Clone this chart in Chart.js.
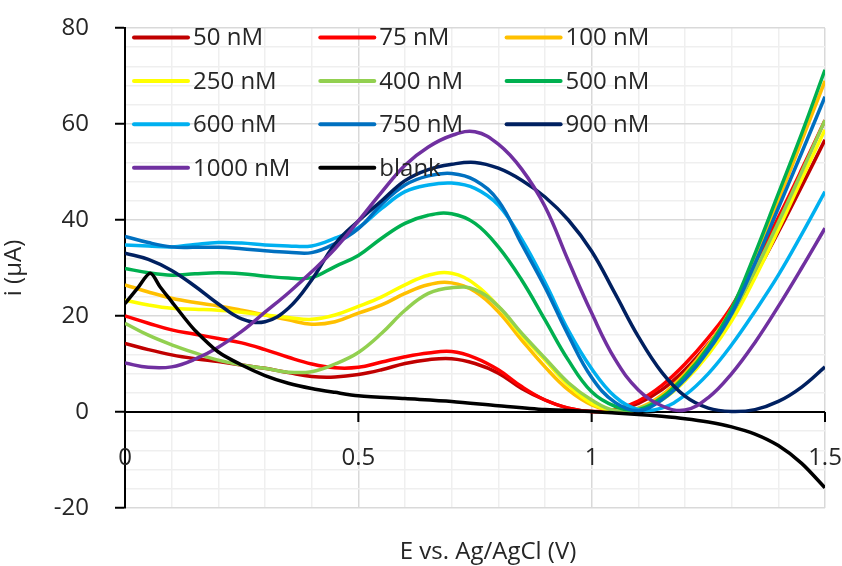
<!DOCTYPE html>
<html>
<head>
<meta charset="utf-8">
<title>i vs E</title>
<script src="https://cdn.jsdelivr.net/npm/chart.js@4.4.1/dist/chart.umd.min.js"></script>
<style>
  html, body { margin: 0; padding: 0; background: #fff; }
  #wrap { position: relative; width: 842px; height: 566px; }
</style>
</head>
<body>
<div id="wrap"><canvas id="chart"></canvas></div>
<script>
// potencial (V) comun para las curvas de concentración
const potentials = [0, 0.05, 0.1, 0.15, 0.2, 0.25, 0.3, 0.35, 0.4, 0.45,
                    0.5, 0.55, 0.6, 0.65, 0.7, 0.75, 0.8, 0.85, 0.9, 0.95,
                    1.0, 1.05, 1.1, 1.15, 1.2, 1.25, 1.3, 1.35, 1.4, 1.45, 1.5];

// corriente (µA) por concentración
const i50   = [14.3, 13.0, 11.9, 11.1, 10.5, 9.8, 9.1, 8.2, 7.4, 7.3,
               7.8, 8.8, 10.1, 10.9, 11.1, 10.1, 8.1, 4.9, 2.5, 0.8,
               0.1, 0.3, 1.8, 4.6, 8.8, 14.2, 20.5, 28.5, 37.5, 47.0, 56.7];
const i75   = [20.0, 18.5, 17.1, 16.2, 15.3, 14.4, 13.0, 11.4, 10.0, 9.2,
               9.3, 10.4, 11.5, 12.3, 12.6, 11.3, 8.8, 5.3, 2.5, 0.8,
               0.1, 0.5, 2.3, 5.5, 10.0, 15.5, 22.0, 31.0, 40.5, 50.5, 60.8];
const i100  = [26.5, 25.0, 23.7, 22.8, 22.1, 21.2, 20.2, 19.2, 18.3, 18.8,
               20.6, 22.3, 24.7, 26.5, 26.9, 25.1, 20.9, 15.0, 9.4, 4.6,
               1.5, 0.3, 0.8, 3.5, 8.0, 14.0, 21.5, 32.0, 44.0, 56.5, 69.0];
const i250  = [23.3, 22.3, 21.6, 21.4, 21.2, 20.8, 20.2, 19.7, 19.3, 20.2,
               22.0, 24.0, 26.5, 28.5, 28.9, 26.6, 22.0, 16.0, 10.8, 5.6,
               1.8, 0.2, 0.5, 2.5, 6.5, 12.0, 19.0, 28.0, 38.0, 48.5, 58.8];
const i400  = [18.5, 16.0, 14.0, 12.3, 10.8, 9.8, 9.1, 8.3, 8.4, 10.0,
               12.4, 16.4, 21.2, 24.7, 25.9, 25.5, 22.0, 16.4, 11.2, 6.1,
               2.5, 0.3, 0.7, 3.0, 7.0, 12.8, 20.3, 29.5, 39.5, 50.0, 60.8];
const i500  = [29.9, 29.0, 28.5, 28.8, 29.0, 28.8, 28.3, 27.9, 28.0, 30.3,
               32.6, 36.2, 39.3, 41.0, 41.3, 39.3, 34.4, 27.5, 19.2, 10.8,
               4.2, 1.2, 0.5, 3.0, 7.5, 13.5, 21.5, 33.0, 45.5, 58.0, 71.3];
const i600  = [34.8, 34.6, 34.4, 34.9, 35.3, 35.2, 34.8, 34.6, 34.6, 36.2,
               38.4, 42.4, 45.9, 47.3, 47.7, 46.6, 43.1, 36.0, 27.0, 17.0,
               9.0, 3.2, 0.5, 0.8, 3.5, 8.0, 14.0, 21.0, 28.5, 37.0, 45.9];
const i750  = [36.6, 35.3, 34.4, 34.3, 34.3, 34.0, 33.6, 33.3, 33.2, 35.1,
               38.2, 43.3, 47.3, 49.2, 49.7, 48.3, 44.0, 35.0, 26.0, 16.0,
               7.2, 2.0, 0.3, 2.5, 6.8, 12.8, 20.5, 31.0, 42.5, 54.0, 65.7];
const i900  = [33.1, 31.8, 29.5, 26.2, 22.5, 19.4, 18.8, 21.6, 27.5, 35.0,
               39.8, 44.0, 48.2, 50.5, 51.6, 52.0, 50.8, 48.3, 44.8, 40.0,
               33.5, 24.7, 15.7, 8.3, 3.3, 0.8, 0.1, 0.5, 2.2, 5.2, 9.4];
const i1000 = [10.2, 9.3, 9.4, 11.0, 13.5, 16.8, 20.8, 24.8, 29.2, 34.0,
               39.8, 45.8, 51.4, 55.2, 57.6, 58.4, 55.8, 50.6, 42.8, 31.5,
               20.6, 11.0, 4.6, 1.3, 0.4, 3.0, 8.0, 14.5, 22.0, 30.0, 38.3];

// blanco: muestreo más fino cerca del pico inicial
const blankPotentials = [0, 0.027, 0.054, 0.075, 0.1, 0.125, 0.15, 0.2, 0.25, 0.3,
                         0.35, 0.4, 0.45, 0.5, 0.6, 0.7, 0.8, 0.9, 1.0, 1.05,
                         1.1, 1.15, 1.2, 1.25, 1.3, 1.35, 1.4, 1.45, 1.5];
const blankCurrent = [22.6, 25.8, 28.9, 26.1, 23.0, 19.9, 17.0, 12.5, 9.8, 7.6,
                      6.0, 4.9, 4.1, 3.4, 2.8, 2.2, 1.3, 0.5, 0.1, -0.2,
                      -0.5, -0.9, -1.4, -2.1, -3.1, -4.6, -7.0, -10.7, -15.8];

const seriesNames = ['50 nM', '75 nM', '100 nM', '250 nM', '400 nM', '500 nM',
                     '600 nM', '750 nM', '900 nM', '1000 nM', 'blank'];
const seriesColors = ['#C00000', '#FF0000', '#FFC000', '#FFFF00', '#92D050', '#00B050',
                      '#00B0F0', '#0070C0', '#002060', '#7030A0', '#000000'];

const xMajorTicks = [0, 0.5, 1, 1.5];
const xTitle = 'E vs. Ag/AgCl (V)';
const yTitle = 'i (µA)';

const FONT = "'Open Sans', 'DejaVu Sans', sans-serif";
const TEXT_COLOR = '#262626';

function toPoints(xs, ys) {
    return xs.map((x, k) => ({ x: x, y: ys[k] }));
}

const currents = [i50, i75, i100, i250, i400, i500, i600, i750, i900, i1000];
const datasets = currents.map((ys, i) => ({
    label: seriesNames[i],
    data: toPoints(potentials, ys),
    borderColor: seriesColors[i],
    backgroundColor: seriesColors[i],
    borderWidth: 3.5,
    pointRadius: 0,
    tension: 0.4,
    fill: false,
    order: seriesNames.length - i   // la última serie queda encima
}));
datasets.push({
    label: seriesNames[10],
    data: toPoints(blankPotentials, blankCurrent),
    borderColor: seriesColors[10],
    backgroundColor: seriesColors[10],
    borderWidth: 3.5,
    pointRadius: 0,
    tension: 0.3,
    fill: false,
    order: 0
});

const isMajorX = v => Math.abs(v * 2 - Math.round(v * 2)) < 1e-6;
const isMajorY = v => Math.abs(v % 20) < 1e-6;

// eje horizontal en i = 0, con sus marcas y etiquetas
const zeroAxis = {
    id: 'zeroAxis',
    beforeDatasetsDraw(chart) {
        const { ctx, chartArea, scales: { x, y } } = chart;
        const y0 = y.getPixelForValue(0);
        ctx.save();
        ctx.strokeStyle = '#000';
        ctx.lineWidth = 2;
        ctx.beginPath();
        ctx.moveTo(chartArea.left, y0);
        ctx.lineTo(chartArea.right, y0);
        xMajorTicks.forEach(v => {
            const px = x.getPixelForValue(v);
            ctx.moveTo(px, y0);
            ctx.lineTo(px, y0 + 10);
        });
        ctx.stroke();

        ctx.fillStyle = TEXT_COLOR;
        ctx.font = '24px ' + FONT;
        ctx.textAlign = 'center';
        ctx.textBaseline = 'middle';
        xMajorTicks.forEach(v => {
            ctx.fillText(String(v), x.getPixelForValue(v), y0 + 46);
        });
        ctx.fillText(xTitle, (chartArea.left + chartArea.right) / 2 + 13, 552);
        ctx.restore();
    }
};

// leyenda de 3 columnas dentro del área de trazado
const plotLegend = {
    id: 'plotLegend',
    afterDatasetsDraw(chart) {
        const { ctx } = chart;
        ctx.save();
        ctx.font = '24px ' + FONT;
        ctx.textAlign = 'left';
        ctx.textBaseline = 'middle';
        ctx.lineCap = 'round';
        chart.data.datasets.forEach((ds, i) => {
            const col = i % 3;
            const row = Math.floor(i / 3);
            const lx = 134 + col * 186.3;
            const ly = 37.5 + row * 43.4;
            ctx.strokeStyle = ds.borderColor;
            ctx.lineWidth = 4;
            ctx.beginPath();
            ctx.moveTo(lx, ly);
            ctx.lineTo(lx + 54, ly);
            ctx.stroke();
            ctx.fillStyle = TEXT_COLOR;
            ctx.fillText(ds.label, lx + 59, ly + 1);
        });
        ctx.restore();
    }
};

new Chart(document.getElementById('chart'), {
    type: 'line',
    data: { datasets: datasets },
    plugins: [zeroAxis, plotLegend],
    options: {
        responsive: true,
        maintainAspectRatio: false,
        animation: false,
        layout: { padding: { top: 28, right: 17, bottom: 58, left: 0 } },
        plugins: {
            legend: { display: false },
            tooltip: { enabled: false }
        },
        scales: {
            x: {
                type: 'linear',
                min: 0,
                max: 1.5,
                ticks: { display: false, stepSize: 0.1, autoSkip: false, maxTicksLimit: 100 },
                grid: {
                    color: ctx => isMajorX(ctx.tick.value) ? '#d9d9d9' : '#efefef',
                    lineWidth: 1.5,
                    drawTicks: false
                },
                border: { display: false }
            },
            y: {
                type: 'linear',
                min: -20,
                max: 80,
                // ancho fijo y sin reserva extra arriba/abajo por las etiquetas
                afterFit: scale => {
                    scale.width = 125;
                    scale.paddingTop = 0;
                    scale.paddingBottom = 0;
                },
                ticks: {
                    stepSize: 4,
                    autoSkip: false,
                    maxTicksLimit: 100,
                    padding: 26,
                    color: TEXT_COLOR,
                    font: { family: FONT, size: 24 },
                    callback: v => isMajorY(v) ? String(v) : ''
                },
                grid: {
                    color: ctx => isMajorY(ctx.tick.value) ? '#d9d9d9' : '#efefef',
                    lineWidth: 1.5,
                    tickLength: 10,
                    tickWidth: 2,
                    tickColor: ctx => isMajorY(ctx.tick.value) ? '#000' : 'rgba(0,0,0,0)'
                },
                border: { color: '#000', width: 2 },
                title: {
                    display: true,
                    text: yTitle,
                    color: TEXT_COLOR,
                    font: { family: FONT, size: 24 },
                    padding: { top: 0, bottom: 0 }
                }
            }
        }
    }
});
</script>
</body>
</html>
